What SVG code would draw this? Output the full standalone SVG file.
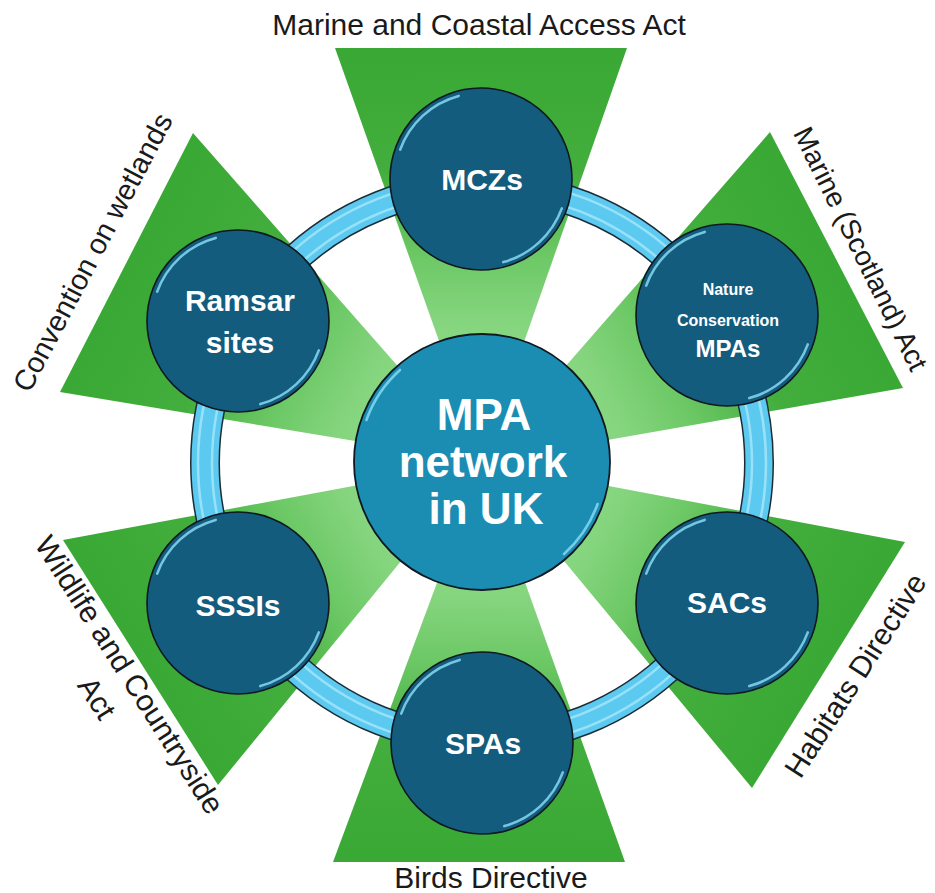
<svg xmlns="http://www.w3.org/2000/svg" xmlns:xlink="http://www.w3.org/1999/xlink" width="935" height="893" viewBox="0 0 935 893">
<defs>
<style>
.lbl{font-family:"Liberation Sans",Arial,sans-serif;font-size:30px;fill:#1a1a1a;text-anchor:middle}
.nt{font-family:"Liberation Sans",Arial,sans-serif;font-weight:bold;fill:#ffffff;text-anchor:middle}
.node{fill:#135c7e;stroke:#101820;stroke-width:1.6}
.hl{fill:none;stroke:#86d8f2;stroke-width:2.6;stroke-linecap:round;opacity:0.85}
</style>
<linearGradient id="gT" gradientUnits="userSpaceOnUse" x1="481" y1="48" x2="482" y2="462">
<stop offset="0" stop-color="#39a834"/>
<stop offset="0.3" stop-color="#43ae3d"/>
<stop offset="0.5" stop-color="#6cc865"/>
<stop offset="0.65" stop-color="#84d47d"/>
<stop offset="1" stop-color="#9de196"/>
</linearGradient>
<linearGradient id="gUR" href="#gT" xlink:href="#gT" x1="836.5" y1="260" x2="482" y2="462"/>
<linearGradient id="gLR" href="#gT" xlink:href="#gT" x1="828.5" y1="665" x2="482" y2="462"/>
<linearGradient id="gB" href="#gT" xlink:href="#gT" x1="479" y1="862" x2="482" y2="462"/>
<linearGradient id="gLL" href="#gT" xlink:href="#gT" x1="140.5" y1="662.5" x2="482" y2="462"/>
<linearGradient id="gUL" href="#gT" xlink:href="#gT" x1="126.5" y1="262.5" x2="482" y2="462"/>
<g id="nodeShape">
<circle class="node" r="91"/>
<path class="hl" d="M -80.8 -29.4 A 86 86 0 0 1 -22.3 -83.1"/>
<path class="hl" d="M 80.8 29.4 A 86 86 0 0 1 22.3 83.1"/>
</g>
</defs>
<rect width="935" height="893" fill="#ffffff"/>

<g id="triangles">
<polygon points="335,48 627,48 482,462" fill="url(#gT)"/>
<polygon points="770,132 903,388 482,462" fill="url(#gUR)"/>
<polygon points="905,542 752,788 482,462" fill="url(#gLR)"/>
<polygon points="625,862 333,862 482,462" fill="url(#gB)"/>
<polygon points="218,785 63,540 482,462" fill="url(#gLL)"/>
<polygon points="60,392 193,133 482,462" fill="url(#gUL)"/>
</g>

<g id="connectors">
<circle cx="482" cy="463" r="277" fill="none" stroke="#1c2c36" stroke-width="30"/>
<circle cx="482" cy="463" r="277" fill="none" stroke="#5ccaf0" stroke-width="27"/>
<circle cx="482" cy="463" r="270" fill="none" stroke="#b3ebfb" stroke-width="2.5" opacity="0.7"/>
<circle cx="482" cy="463" r="284" fill="none" stroke="#b3ebfb" stroke-width="2.5" opacity="0.7"/>
</g>

<g id="labels">
<text class="lbl" x="479" y="35">Marine and Coastal Access Act</text>
<text class="lbl" x="491" y="888">Birds Directive</text>
<text class="lbl" font-size="29" transform="translate(101.5,257) rotate(-62.3)" style="font-size:29px">Convention on wetlands</text>
<text class="lbl" transform="translate(852,253) rotate(63.7)" style="font-size:28px">Marine (Scotland) Act</text>
<text class="lbl" transform="translate(864.1,680.9) rotate(-57.3)">Habitats Directive</text>
<text class="lbl" transform="translate(120.9,680.4) rotate(57.4)"><tspan x="0" y="0">Wildlife and Countryside</tspan><tspan x="2" y="40">Act</tspan></text>
</g>

<g id="node-mczs">
<use href="#nodeShape" xlink:href="#nodeShape" x="481" y="179"/>
<text class="nt" x="482" y="190" font-size="30">MCZs</text>
</g>
<g id="node-nc-mpas">
<use href="#nodeShape" xlink:href="#nodeShape" x="727" y="315"/>
<text class="nt" x="728" y="295" font-size="16">Nature</text>
<text class="nt" x="728" y="326" font-size="16">Conservation</text>
<text class="nt" x="728" y="357" font-size="24">MPAs</text>
</g>
<g id="node-ramsar">
<use href="#nodeShape" xlink:href="#nodeShape" x="238" y="321"/>
<text class="nt" x="240" y="311" font-size="30">Ramsar</text>
<text class="nt" x="240" y="353" font-size="30">sites</text>
</g>
<g id="node-sssis">
<use href="#nodeShape" xlink:href="#nodeShape" x="238" y="603"/>
<text class="nt" x="238" y="616" font-size="30">SSSIs</text>
</g>
<g id="node-sacs">
<use href="#nodeShape" xlink:href="#nodeShape" x="727" y="603"/>
<text class="nt" x="727" y="613" font-size="30">SACs</text>
</g>
<g id="node-spas">
<use href="#nodeShape" xlink:href="#nodeShape" x="482" y="743"/>
<text class="nt" x="483" y="754" font-size="30">SPAs</text>
</g>

<g id="node-center">
<circle cx="482" cy="462" r="128" fill="#1b8db3" stroke="#101820" stroke-width="1.8"/>
<path class="hl" d="M 366.4 420 A 123 123 0 0 1 400 370"/>
<path class="hl" d="M 597.6 504 A 123 123 0 0 1 564 554"/>
<text class="nt" x="484" y="430" font-size="44">MPA</text>
<text class="nt" x="483" y="477" font-size="44">network</text>
<text class="nt" x="486" y="524" font-size="44">in UK</text>
</g>
</svg>
